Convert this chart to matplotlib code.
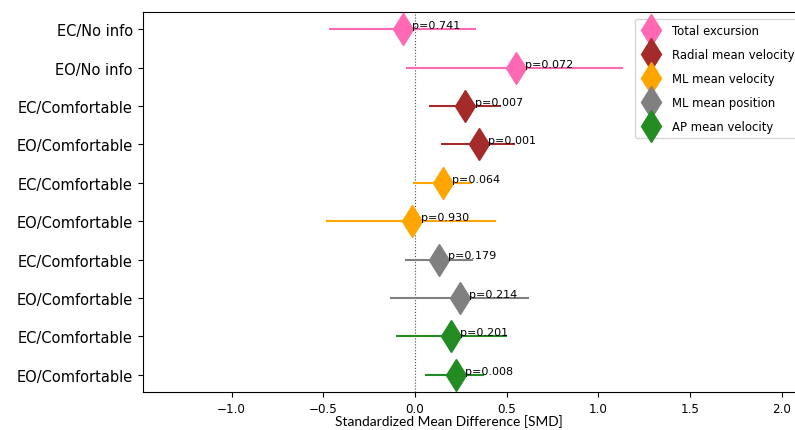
import numpy as np
import matplotlib
matplotlib.use("Agg")
import matplotlib.pyplot as plt

# rows, top to bottom
row_labels = ["EC/No info", "EO/No info",
              "EC/Comfortable", "EO/Comfortable",
              "EC/Comfortable", "EO/Comfortable",
              "EC/Comfortable", "EO/Comfortable",
              "EC/Comfortable", "EO/Comfortable"]
smd = [-0.066, 0.548, 0.275, 0.348, 0.153, -0.016, 0.129, 0.244, 0.197, 0.222]
ci_low = [-0.468, -0.047, 0.076, 0.144, -0.011, -0.485, -0.057, -0.139, -0.102, 0.056]
ci_high = [0.330, 1.134, 0.470, 0.543, 0.311, 0.440, 0.317, 0.621, 0.499, 0.375]
p_values = ["0.741", "0.072", "0.007", "0.001", "0.064",
            "0.930", "0.179", "0.214", "0.201", "0.008"]

measures = ["Total excursion", "Radial mean velocity", "ML mean velocity",
            "ML mean position", "AP mean velocity"]
colours = ["hotpink", "brown", "orange", "grey", "forestgreen"]

fig = plt.figure(figsize=(7.95, 4.31), dpi=100)
W, H = 795, 431
# axes runs off the right edge like the cropped original
ax = fig.add_axes([142.7 / W, (H - 393) / H, (818.5 - 142.7) / W, (393 - 13) / H])

y = np.arange(len(row_labels))
for i in range(len(row_labels)):
    c = colours[i // 2]
    ax.hlines(y[i], ci_low[i], ci_high[i], color=c, lw=1.5)
    ax.plot(smd[i], y[i], marker="d", markersize=16.5, color=c, linestyle="none",
            label=measures[i // 2] if i % 2 == 0 else None)
    ax.text(smd[i] + 0.05, y[i] - 0.03, "p=" + p_values[i], fontsize=8)

ax.axvline(0, color="0.3", ls=":", lw=0.8, zorder=0)
ax.invert_yaxis()
ax.set_yticks(y)
ax.set_yticklabels(row_labels, fontsize=10.5)
ax.tick_params(axis="x", labelsize=8.6)
ax.set_xlim(-1.485, 2.2)

ax.legend(loc="upper left", bbox_to_anchor=(635 / W, (H - 20) / H),
          bbox_transform=fig.transFigure, borderaxespad=0, fontsize=8.4,
          labelspacing=0.95)

fig.text(449 / W, 1 - 422 / H, "Standardized Mean Difference [SMD]",
         ha="center", va="center", fontsize=9.9, family="Lato")

fig.savefig("out.png", dpi=100)
